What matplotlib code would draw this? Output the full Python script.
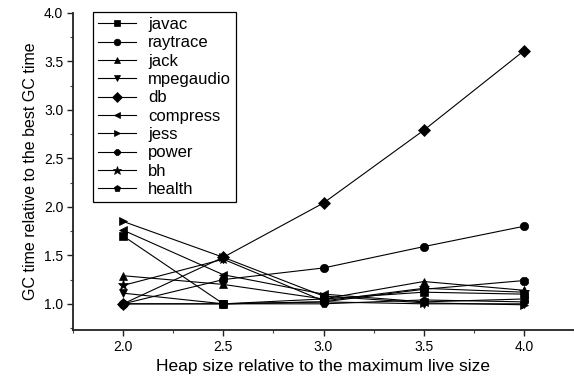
import matplotlib
matplotlib.use("Agg")
import matplotlib.pyplot as plt
from matplotlib.ticker import MultipleLocator

plt.rcParams["font.family"] = ["Liberation Sans", "DejaVu Sans"]

# heap size relative to the max live size
heap = [2.0, 2.5, 3.0, 3.5, 4.0]

javac = [1.70, 1.00, 1.05, 1.12, 1.10]
raytrace = [1.00, 1.25, 1.37, 1.59, 1.80]
jack = [1.29, 1.20, 1.05, 1.23, 1.14]
mpegaudio = [1.11, 1.00, 1.02, 1.00, 1.00]
db = [1.00, 1.48, 2.04, 2.79, 3.61]
compress = [1.76, 1.30, 1.10, 1.02, 1.05]
jess = [1.85, 1.48, 1.08, 1.01, 0.99]
power = [1.00, 1.00, 1.02, 1.15, 1.24]
bh = [1.19, 1.46, 1.03, 1.16, 1.12]
health = [1.00, 1.00, 1.00, 1.04, 1.02]

names = ["javac", "raytrace", "jack", "mpegaudio", "db",
         "compress", "jess", "power", "bh", "health"]
series = [javac, raytrace, jack, mpegaudio, db,
          compress, jess, power, bh, health]
markers = ["s", "o", "^", "v", "D", "<", ">", "8", "*", "p"]

fig = plt.figure(figsize=(5.74, 3.81), dpi=100)
ax = fig.add_axes([73 / 574, 51 / 381, 501 / 574, 317 / 381])

for name, ys, mk in zip(names, series, markers):
    ms = 8 if mk == "*" else 6
    ax.plot(heap, ys, color="black", linewidth=0.8, marker=mk,
            markersize=ms, markeredgewidth=0.5, label=name)

ax.set_xlim(1.75, 4.25)
ax.set_ylim(0.73, 4.0)
ax.xaxis.set_major_locator(MultipleLocator(0.5))
ax.xaxis.set_minor_locator(MultipleLocator(0.25))
ax.yaxis.set_major_locator(MultipleLocator(0.5))
ax.yaxis.set_minor_locator(MultipleLocator(0.25))

for side in ["top", "right"]:
    ax.spines[side].set_visible(False)
for side in ["left", "bottom"]:
    ax.spines[side].set_linewidth(1.3)
    ax.spines[side].set_color("#222222")

ax.tick_params(which="major", direction="out", length=4, width=1.0,
               labelsize=10, pad=3, color="#222222")
ax.tick_params(which="minor", direction="out", length=2.5, width=0.8,
               color="#444444")

ax.set_xlabel("Heap size relative to the maximum live size", fontsize=12.5)
ax.set_ylabel("GC time relative to the best GC time", fontsize=11.5)
ax.xaxis.set_label_coords(0.5, -0.093)
ax.yaxis.set_label_coords(-0.07, 0.5)

leg = ax.legend(loc="upper left", bbox_to_anchor=(93 / 574, 1 - 12 / 381),
                bbox_transform=fig.transFigure, fontsize=12,
                markerscale=0.8, handlelength=2.3, handletextpad=0.7,
                labelspacing=0.2, borderpad=0.3, borderaxespad=0,
                fancybox=False, framealpha=1, edgecolor="black")
leg.get_frame().set_linewidth(0.9)

fig.savefig("out.png", dpi=100)
